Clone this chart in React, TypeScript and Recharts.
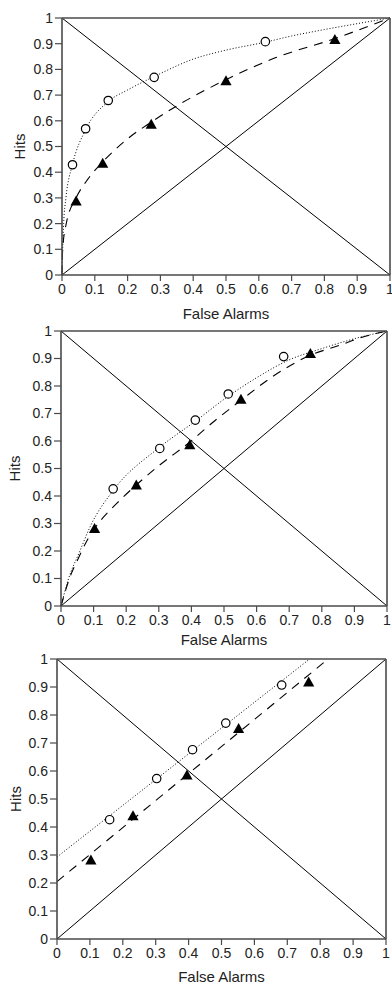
import React from 'react';
import { ComposedChart, Line, Scatter, XAxis, YAxis } from 'recharts';

// ---------- data ----------
const axisTicks = [0, 0.1, 0.2, 0.3, 0.4, 0.5, 0.6, 0.7, 0.8, 0.9, 1];

// Panel 1 observed points
const p1CircleFA = [0.032, 0.072, 0.141, 0.281, 0.62];
const p1CircleHits = [0.429, 0.569, 0.679, 0.769, 0.908];
const p1TriFA = [0.043, 0.124, 0.272, 0.5, 0.832];
const p1TriHits = [0.288, 0.435, 0.587, 0.756, 0.916];

// Panel 1 fitted curves
const p1DotFA = [0, 0.002, 0.005, 0.012, 0.032, 0.072, 0.141, 0.2, 0.281, 0.4, 0.5, 0.62, 0.7, 0.8, 0.9, 1];
const p1DotHits = [0, 0.1, 0.2, 0.3, 0.43, 0.565, 0.675, 0.72, 0.772, 0.84, 0.875, 0.906, 0.93, 0.955, 0.978, 1];
const p1DashFA = [0, 0.002, 0.013, 0.043, 0.08, 0.124, 0.2, 0.272, 0.35, 0.5, 0.65, 0.832, 1];
const p1DashHits = [0, 0.1, 0.2, 0.3, 0.375, 0.44, 0.53, 0.595, 0.658, 0.76, 0.845, 0.92, 1];

// Panels 2 & 3 observed points
const p2CircleFA = [0.16, 0.303, 0.412, 0.513, 0.683];
const p2CircleHits = [0.426, 0.573, 0.676, 0.771, 0.907];
const p2TriFA = [0.103, 0.231, 0.395, 0.552, 0.765];
const p2TriHits = [0.282, 0.44, 0.586, 0.752, 0.918];

// Panel 2 fitted curves
const p2DotFA = [0, 0.022, 0.058, 0.09, 0.16, 0.3, 0.41, 0.51, 0.6, 0.7, 0.8, 0.9, 1];
const p2DotHits = [0, 0.095, 0.2, 0.29, 0.42, 0.575, 0.67, 0.76, 0.83, 0.895, 0.936, 0.972, 1];
const p2DashFA = [0, 0.028, 0.053, 0.084, 0.103, 0.171, 0.231, 0.3, 0.395, 0.47, 0.552, 0.65, 0.765, 0.857, 0.909, 1];
const p2DashHits = [0, 0.107, 0.173, 0.247, 0.282, 0.373, 0.44, 0.51, 0.596, 0.672, 0.748, 0.835, 0.912, 0.949, 0.972, 1];

// Panel 3 fitted straight lines
const p3DotFA = [0, 0.768];
const p3DotHits = [0.293, 1];
const p3DashFA = [0, 0.824];
const p3DashHits = [0.205, 1];

// reference diagonals
const chanceFA = [0, 1];
const chanceHits = [0, 1];
const negFA = [0, 1];
const negHits = [1, 0];

const zip = (xs: number[], ys: number[]) => xs.map((x, i) => ({ x, y: ys[i] }));

// ---------- styles ----------
const FONT = '"Liberation Sans", Arial, Helvetica, sans-serif';
const AXIS = '#4a4a4a';
const TXT = '#222';

const Circle = (props: any) => {
  const { cx, cy } = props;
  return <circle cx={cx} cy={cy} r={4.2} fill="#fff" stroke="#000" strokeWidth={1.2} />;
};
const Tri = (props: any) => {
  const { cx, cy } = props;
  return <path d={`M${cx},${cy - 5.5}L${cx + 5.6},${cy + 4.5}L${cx - 5.6},${cy + 4.5}Z`} fill="#000" />;
};

type PanelProps = {
  L: number; T: number; R: number; B: number;
  hB: number; titleOffset: number; hitsX: number;
  circles: { x: number; y: number }[];
  tris: { x: number; y: number }[];
  dotted: { x: number; y: number }[];
  dashed: { x: number; y: number }[];
  curveType: 'monotone' | 'linear';
};

const Panel = (p: PanelProps) => {
  const width = p.R + 10;
  const height = p.B - p.T + 10 + p.hB;
  return (
    <div style={{ position: 'absolute', left: 0, top: p.T - 10 }}>
      <ComposedChart width={width} height={height} margin={{ top: 2, right: 0, bottom: 0, left: 0 }}>
        <XAxis
          xAxisId={0}
          dataKey="x"
          type="number"
          domain={[0, 1]}
          ticks={axisTicks}
          interval={0}
          height={p.hB}
          tickSize={6}
          tickMargin={3}
          axisLine={{ stroke: AXIS, strokeWidth: 1.6 }}
          tickLine={{ stroke: AXIS, strokeWidth: 1.2 }}
          tick={{ fill: TXT, fontSize: 14 }}
          label={{ value: 'False Alarms', position: 'insideBottom', offset: p.titleOffset, fill: TXT, fontSize: 15 }}
        />
        <XAxis
          xAxisId="top"
          orientation="top"
          dataKey="x"
          type="number"
          domain={[0, 1]}
          ticks={axisTicks}
          interval={0}
          height={8}
          tickSize={6}
          axisLine={{ stroke: AXIS, strokeWidth: 1.6 }}
          tickLine={{ stroke: AXIS, strokeWidth: 1.2 }}
          tickFormatter={() => ''}
        />
        <YAxis
          yAxisId={0}
          type="number"
          domain={[0, 1]}
          ticks={axisTicks}
          interval={0}
          width={p.L}
          tickSize={7}
          tickMargin={2}
          axisLine={{ stroke: AXIS, strokeWidth: 1.6 }}
          tickLine={{ stroke: AXIS, strokeWidth: 1.2 }}
          tick={{ fill: TXT, fontSize: 14 }}
          label={{ value: 'Hits', angle: -90, position: 'insideLeft', offset: p.hitsX, fill: TXT, fontSize: 15, style: { textAnchor: 'middle' } }}
        />
        <YAxis
          yAxisId="right"
          orientation="right"
          type="number"
          domain={[0, 1]}
          ticks={axisTicks}
          interval={0}
          width={10}
          tickSize={7}
          axisLine={{ stroke: AXIS, strokeWidth: 1.6 }}
          tickLine={{ stroke: AXIS, strokeWidth: 1.2 }}
          tickFormatter={() => ''}
        />
        <Line data={zip(chanceFA, chanceHits)} dataKey="y" type="linear" stroke="#000" strokeWidth={1} dot={false} activeDot={false} isAnimationActive={false} />
        <Line data={zip(negFA, negHits)} dataKey="y" type="linear" stroke="#000" strokeWidth={1} dot={false} activeDot={false} isAnimationActive={false} />
        <Line data={p.dotted} dataKey="y" type={p.curveType} stroke="#000" strokeWidth={1} strokeDasharray="1 2" dot={false} activeDot={false} isAnimationActive={false} />
        <Line data={p.dashed} dataKey="y" type={p.curveType} stroke="#000" strokeWidth={1.1} strokeDasharray="9 7" dot={false} activeDot={false} isAnimationActive={false} />
        <Scatter data={p.tris} dataKey="y" shape={Tri} isAnimationActive={false} />
        <Scatter data={p.circles} dataKey="y" shape={Circle} isAnimationActive={false} />
      </ComposedChart>
    </div>
  );
};

export default function App() {
  return (
    <div style={{ position: 'absolute', left: 0, top: 0, width: 392, height: 985, overflow: 'hidden', background: '#fff', fontFamily: FONT }}>
      <Panel
        L={62} T={18} R={390} B={275} hB={50} titleOffset={6} hitsX={20}
        circles={zip(p1CircleFA, p1CircleHits)} tris={zip(p1TriFA, p1TriHits)}
        dotted={zip(p1DotFA, p1DotHits)} dashed={zip(p1DashFA, p1DashHits)} curveType="monotone"
      />
      <Panel
        L={61} T={331} R={387} B={606} hB={45} titleOffset={6} hitsX={15}
        circles={zip(p2CircleFA, p2CircleHits)} tris={zip(p2TriFA, p2TriHits)}
        dotted={zip(p2DotFA, p2DotHits)} dashed={zip(p2DashFA, p2DashHits)} curveType="monotone"
      />
      <Panel
        L={57} T={659} R={386} B={939} hB={46} titleOffset={3} hitsX={16}
        circles={zip(p2CircleFA, p2CircleHits)} tris={zip(p2TriFA, p2TriHits)}
        dotted={zip(p3DotFA, p3DotHits)} dashed={zip(p3DashFA, p3DashHits)} curveType="linear"
      />
    </div>
  );
}
